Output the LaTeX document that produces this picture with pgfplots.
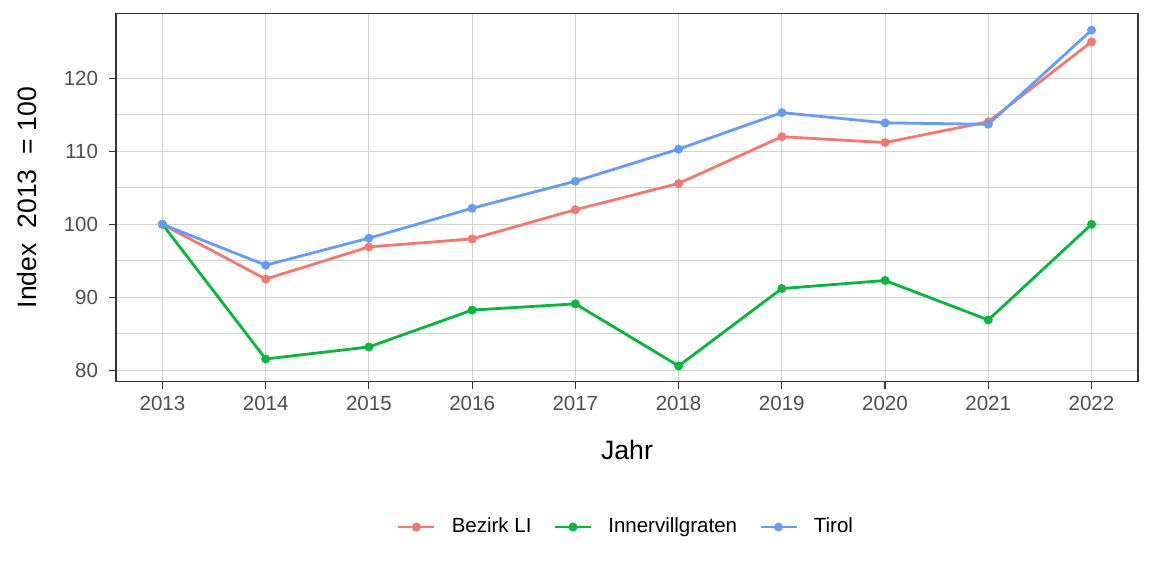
\documentclass[border=0pt]{standalone}
\usepackage{fontspec}
\setmainfont{Liberation Sans}
\usepackage{pgfplots}
\pgfplotsset{compat=1.18}
\definecolor{cLI}{HTML}{F8766D}
\definecolor{cIV}{HTML}{00BA38}
\definecolor{cTI}{HTML}{619CFF}
\definecolor{gridc}{HTML}{D2D2D2}
\definecolor{tickc}{HTML}{4D4D4D}
\definecolor{framec}{HTML}{333333}

\begin{document}
\begin{tikzpicture}
\begin{axis}[
    name=main,
    scale only axis,
    width=511pt, height=184pt,
    xmin=2012.55, xmax=2022.45,
    ymin=78.44, ymax=128.85,
    xtick={2013,...,2022},
    ytick={80,90,100,110,120},
    minor y tick num=1,
    xticklabel style={/pgf/number format/1000 sep={}},
    yticklabel style={xshift=-2pt},
    /pgf/number format/assume math mode=true,
    tick label style={font=\fontsize{10.25}{12}\selectfont, color=tickc},
    tick align=outside,
    major tick length=3.5pt,
    minor tick length=0pt,
    tick style={color=framec, line width=0.6pt},
    xtick pos=bottom, ytick pos=left,
    axis line style={color=framec, line width=0.7pt},
    grid=both,
    major grid style={color=gridc, line width=0.5pt},
    minor grid style={color=gridc, line width=0.35pt},
    xlabel={Jahr},
    ylabel={Index\ \ 2013\ \ = 100},
    label style={font=\fontsize{13.3}{15}\selectfont},
    xlabel style={at={(axis description cs:0.5,-0.1856)}, anchor=center},
    ylabel style={at={(axis description cs:-0.0871,0.5)}, anchor=center},
    legend columns=3,
    legend style={at={(0.5,-0.395)}, anchor=center, draw=none, fill=none,
        font=\fontsize{10.25}{12}\selectfont,
        /tikz/every odd column/.append style={column sep=6pt},
        /tikz/every even column/.append style={column sep=9pt}},
    legend image code/.code={\draw[mark repeat=2,mark phase=2] plot coordinates {(0pt,0pt)(9pt,0pt)(18pt,0pt)};},
    every axis plot/.append style={line width=1.4pt, mark=*, mark size=1.5pt},
]
\addplot[color=cLI, mark options={fill=cLI}] coordinates {
    (2013,100.0) (2014,92.5) (2015,96.9) (2016,98.0) (2017,102.0)
    (2018,105.6) (2019,112.0) (2020,111.2) (2021,114.05) (2022,125.0)
};
\addlegendentry{Bezirk LI}
\addplot[color=cIV, mark options={fill=cIV}] coordinates {
    (2013,100.0) (2014,81.55) (2015,83.2) (2016,88.25) (2017,89.1)
    (2018,80.6) (2019,91.2) (2020,92.3) (2021,86.9) (2022,100.0)
};
\addlegendentry{Innervillgraten}
\addplot[color=cTI, mark options={fill=cTI}] coordinates {
    (2013,100.0) (2014,94.4) (2015,98.1) (2016,102.2) (2017,105.9)
    (2018,110.3) (2019,115.3) (2020,113.9) (2021,113.7) (2022,126.6)
};
\addlegendentry{Tirol}
\end{axis}
\path ([xshift=-58pt,yshift=-97.15pt]main.south west) rectangle +(576pt,288pt);
\end{tikzpicture}
\end{document}
